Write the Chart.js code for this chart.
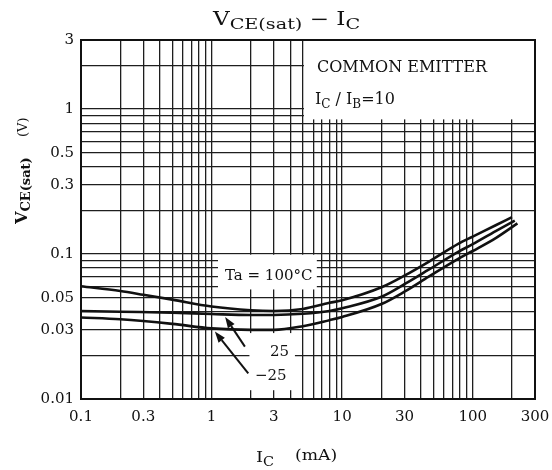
<!DOCTYPE html>
<html>
<head>
<meta charset="utf-8">
<script src="https://cdn.jsdelivr.net/npm/chart.js@4.4.0/dist/chart.umd.min.js"></script>
<style>
  html, body { margin: 0; padding: 0; background: #fff; }
  #wrap { width: 552px; height: 470px; }
</style>
</head>
<body>
<div id="wrap"><canvas id="grafico" width="552" height="470"></canvas></div>
<script>
// IC (mA) x VCE(sat) (V) - leituras do grafico, IC/IB = 10
const icTa100  = [0.1, 0.2, 0.3, 0.5, 1, 2, 3, 5, 8, 10, 20, 30, 46, 78, 100, 150, 200];
const vceTa100 = [0.060, 0.0556, 0.0524, 0.0485, 0.0435, 0.041, 0.0405, 0.0418, 0.0461, 0.048, 0.059, 0.071, 0.0885, 0.118, 0.132, 0.158, 0.18];

const icTa25   = [0.1, 0.2, 0.5, 1, 2, 3, 5, 8, 10, 20, 30, 46, 78, 100, 150, 210];
const vceTa25  = [0.0405, 0.040, 0.0394, 0.0386, 0.038, 0.038, 0.0387, 0.0405, 0.0423, 0.0508, 0.062, 0.078, 0.104, 0.117, 0.144, 0.17];

const icTaM25  = [0.1, 0.2, 0.5, 1, 2, 3, 5, 8, 10, 20, 30, 46, 78, 100, 150, 220];
const vceTaM25 = [0.0365, 0.0355, 0.033, 0.0307, 0.030, 0.030, 0.0318, 0.035, 0.0368, 0.0452, 0.055, 0.0698, 0.093, 0.105, 0.129, 0.163];

// rotulos dos eixos
const rotulosX = [0.1, 0.3, 1, 3, 10, 30, 100, 300];
const rotulosY = [0.01, 0.03, 0.05, 0.1, 0.3, 0.5, 1, 3];

// grade log: 1..9 em cada decada
function gradeLog(min, max) {
    const lista = [];
    for (let d = Math.floor(Math.log10(min)); d <= Math.ceil(Math.log10(max)); d++) {
        for (let m = 1; m <= 9; m++) {
            const v = Number((m * Math.pow(10, d)).toPrecision(6));
            if (v >= min && v <= max) lista.push(v);
        }
    }
    return lista;
}
const gradeX = gradeLog(0.1, 300);
const gradeY = gradeLog(0.01, 3);

const FONTE = "'DejaVu Serif', 'Liberation Serif', serif";
const TINTA = '#111';

// areas em branco atras dos textos (em unidades do grafico)
const caixasBrancas = [
    { x0: 5.1, x1: 300, y0: 0.85, y1: 3 },
    { x0: 1.12, x1: 6.4, y0: 0.057, y1: 0.099 },
    { x0: 1.95, x1: 4.35, y0: 0.0115, y1: 0.0285 }
];

// setas: da legenda ate a curva
const setas = [
    { de: [1.80, 0.0230], ate: [1.27, 0.0368] },
    { de: [1.91, 0.0150], ate: [1.06, 0.0292] }
];

function textoRico(ctx, partes, x, y, escalaX) {
    ctx.save();
    ctx.translate(x, y);
    ctx.scale(escalaX || 1, 1);
    let cx = 0;
    partes.forEach(p => {
        ctx.font = p.f;
        ctx.fillText(p.t, cx, p.dy || 0);
        cx += ctx.measureText(p.t).width;
    });
    ctx.restore();
}

const moldura = {
    id: 'moldura',
    beforeDatasetsDraw(chart) {
        const { ctx, scales: { x, y } } = chart;
        ctx.save();
        ctx.fillStyle = '#fff';
        caixasBrancas.forEach(c => {
            const x0 = x.getPixelForValue(c.x0), x1 = x.getPixelForValue(c.x1);
            const y0 = y.getPixelForValue(c.y1), y1 = y.getPixelForValue(c.y0);
            ctx.fillRect(x0, y0, x1 - x0, y1 - y0);
        });
        ctx.restore();
    },
    afterDatasetsDraw(chart) {
        const { ctx, chartArea: a, scales: { x, y } } = chart;
        ctx.save();
        ctx.strokeStyle = TINTA;
        ctx.lineWidth = 2;
        ctx.strokeRect(a.left, a.top, a.right - a.left, a.bottom - a.top);

        // setas
        ctx.fillStyle = TINTA;
        ctx.lineWidth = 2;
        setas.forEach(s => {
            const x0 = x.getPixelForValue(s.de[0]), y0 = y.getPixelForValue(s.de[1]);
            const x1 = x.getPixelForValue(s.ate[0]), y1 = y.getPixelForValue(s.ate[1]);
            const ang = Math.atan2(y1 - y0, x1 - x0);
            const L = 11, W = 4;
            const bx = x1 - L * Math.cos(ang), by = y1 - L * Math.sin(ang);
            ctx.beginPath();
            ctx.moveTo(x0, y0);
            ctx.lineTo(bx, by);
            ctx.stroke();
            ctx.beginPath();
            ctx.moveTo(x1, y1);
            ctx.lineTo(bx + W * Math.sin(ang), by - W * Math.cos(ang));
            ctx.lineTo(bx - W * Math.sin(ang), by + W * Math.cos(ang));
            ctx.closePath();
            ctx.fill();
        });

        // textos dentro do grafico
        ctx.textAlign = 'left';
        ctx.textBaseline = 'alphabetic';
        ctx.font = '16px ' + FONTE;
        ctx.fillText('COMMON EMITTER', x.getPixelForValue(6.41), y.getPixelForValue(1.81));
        textoRico(ctx, [
            { t: 'I', f: '16px ' + FONTE },
            { t: 'C', f: '12px ' + FONTE, dy: 4 },
            { t: ' / ', f: '16px ' + FONTE },
            { t: 'I', f: '16px ' + FONTE },
            { t: 'B', f: '12px ' + FONTE, dy: 4 },
            { t: '=10', f: '16px ' + FONTE }
        ], x.getPixelForValue(6.19), y.getPixelForValue(1.087));

        ctx.font = '15px ' + FONTE;
        ctx.fillText('Ta = 100°C', x.getPixelForValue(1.267), y.getPixelForValue(0.0662));
        ctx.fillText('25', x.getPixelForValue(2.80), y.getPixelForValue(0.0198));
        ctx.fillText('\u221225', x.getPixelForValue(2.15), y.getPixelForValue(0.01352));
        ctx.restore();
    },
    afterDraw(chart) {
        const { ctx } = chart;
        ctx.save();
        ctx.fillStyle = TINTA;
        ctx.textAlign = 'left';
        ctx.textBaseline = 'alphabetic';

        // titulo
        textoRico(ctx, [
            { t: 'V', f: '18px ' + FONTE },
            { t: 'CE(sat)', f: '15px ' + FONTE, dy: 4 },
            { t: ' \u2212 ', f: '18px ' + FONTE },
            { t: 'I', f: '18px ' + FONTE },
            { t: 'C', f: '15px ' + FONTE, dy: 4 }
        ], 213, 25, 1.28);

        // eixo x
        textoRico(ctx, [
            { t: 'I', f: '15px ' + FONTE },
            { t: 'C', f: '12px ' + FONTE, dy: 4 }
        ], 256, 462, 1.2);
        textoRico(ctx, [{ t: '(mA)', f: '15px ' + FONTE }], 295, 460, 1.15);

        // eixo y (rotacionado)
        ctx.save();
        ctx.translate(27, 224);
        ctx.rotate(-Math.PI / 2);
        textoRico(ctx, [
            { t: 'V', f: 'bold 16px ' + FONTE },
            { t: 'CE(sat)', f: 'bold 13px ' + FONTE, dy: 3 }
        ], 0, 0);
        ctx.font = '13px ' + FONTE;
        ctx.fillText('(V)', 87, 0);
        ctx.restore();

        ctx.restore();
    }
};

const serie = (xs, ys) => xs.map((v, i) => ({ x: v, y: ys[i] }));
const estiloCurva = {
    borderColor: TINTA,
    borderWidth: 2.6,
    pointRadius: 0,
    fill: false,
    cubicInterpolationMode: 'monotone'
};

new Chart(document.getElementById('grafico'), {
    type: 'line',
    data: {
        datasets: [
            Object.assign({ label: 'Ta = 100°C', data: serie(icTa100, vceTa100) }, estiloCurva),
            Object.assign({ label: '25', data: serie(icTa25, vceTa25) }, estiloCurva),
            Object.assign({ label: '-25', data: serie(icTaM25, vceTaM25) }, estiloCurva)
        ]
    },
    options: {
        responsive: false,
        animation: false,
        layout: { padding: { top: 40, right: 17, left: 0, bottom: 0 } },
        plugins: { legend: { display: false }, title: { display: false }, tooltip: { enabled: false } },
        scales: {
            x: {
                type: 'logarithmic',
                min: 0.1, max: 300,
                afterBuildTicks: s => { s.ticks = gradeX.map(v => ({ value: v })); },
                afterFit: s => { s.height = 71; s.paddingLeft = 0; s.paddingRight = 0; },
                ticks: {
                    autoSkip: false, maxRotation: 0, padding: 9, color: TINTA,
                    font: { family: FONTE, size: 15 },
                    callback: v => rotulosX.includes(v) ? String(v) : ''
                },
                grid: { color: '#1e1e1e', lineWidth: 1.3, drawTicks: false },
                border: { color: TINTA, width: 2 }
            },
            y: {
                type: 'logarithmic',
                min: 0.01, max: 3,
                afterBuildTicks: s => { s.ticks = gradeY.map(v => ({ value: v })); },
                afterFit: s => { s.width = 81; s.paddingTop = 0; s.paddingBottom = 0; },
                ticks: {
                    autoSkip: false, padding: 7, color: TINTA,
                    font: { family: FONTE, size: 15 },
                    callback: v => rotulosY.includes(v) ? String(v) : ''
                },
                grid: { color: '#1e1e1e', lineWidth: 1.3, drawTicks: false },
                border: { color: TINTA, width: 2 }
            }
        }
    },
    plugins: [moldura]
});
</script>
</body>
</html>
